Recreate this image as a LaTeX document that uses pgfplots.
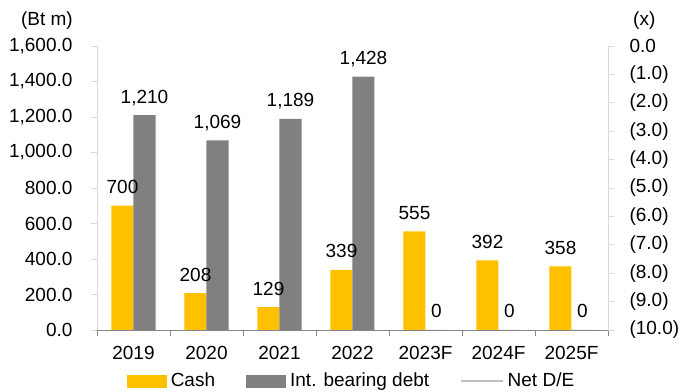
\documentclass[border=0pt]{standalone}
\usepackage{pgfplots}
\pgfplotsset{compat=1.18}
\usepackage{fontspec}
\setmainfont{Liberation Sans}
\definecolor{cashc}{HTML}{FFC000}
\definecolor{debtc}{HTML}{808080}
\definecolor{lightax}{HTML}{D9D9D9}
\definecolor{darkax}{HTML}{868686}
\definecolor{nde}{HTML}{BFBFBF}
\pgfplotsset{
  swatch/.style={legend image code/.code={\fill[##1] (0bp,-6.5bp) rectangle (40bp,6.5bp);}},
  lineleg/.style={legend image code/.code={\draw[##1] (0bp,0bp) -- (42bp,0bp);}},
}
\begin{document}
\fontsize{19bp}{22bp}\selectfont
\begin{tikzpicture}
\useasboundingbox (0,0) rectangle (680bp,392bp);
\begin{axis}[
  at={(97bp,62bp)}, anchor=south west,
  width=511bp, height=284bp, scale only axis,
  xmin=-0.5, xmax=6.5, ymin=0, ymax=1600,
  axis x line*=bottom, axis y line*=left,
  axis line style={-},
  x axis line style={draw=darkax, line width=0.8bp},
  y axis line style={draw=lightax, line width=0.8bp},
  tick align=outside, major tick length=6bp,
  xtick={-0.5,0.5,...,6.5},
  x tick label as interval,
  xticklabels={2019,2020,2021,2022,2023F,2024F,2025F},
  x tick style={draw=darkax, line width=0.8bp},
  ytick={0,200,...,1600},
  yticklabels={0.0,200.0,400.0,600.0,800.0,{1,000.0},{1,200.0},{1,400.0},{1,600.0}},
  y tick style={draw=lightax, line width=0.8bp},
  ticklabel style={font=\fontsize{19bp}{22bp}\selectfont},
  yticklabel style={xshift=-12bp},
  xticklabel style={yshift=-4bp},
  /pgf/number format/1000 sep={,},
  /pgf/number format/assume math mode=true,
  nodes near coords,
  every node near coord/.append style={font=\fontsize{19bp}{22bp}\selectfont, anchor=base, yshift=12bp, inner sep=0pt},
  legend style={at={(0.5,-0.18)}, anchor=center, draw=none, fill=none,
    font=\fontsize{19bp}{22bp}\selectfont, legend columns=3,
    nodes={inner xsep=4bp, inner ysep=0bp},
    /tikz/every even column/.append style={column sep=27bp}},
]
\addplot[ybar, bar width=22bp, bar shift=-11bp, fill=cashc, draw=none, swatch,
  every node near coord/.append style={xshift=-11bp}] coordinates {
  (0,700) (1,208) (2,129) (3,339) (4,555) (5,392) (6,358)};
\addlegendentry{Cash}
\addplot[ybar, bar width=22bp, bar shift=11bp, fill=debtc, draw=none, swatch,
  every node near coord/.append style={xshift=11bp}] coordinates {
  (0,1210) (1,1069) (2,1189) (3,1428) (4,0) (5,0) (6,0)};
\addlegendentry{Int. bearing debt}
\addlegendimage{lineleg, draw=nde, line width=1.5bp}
\addlegendentry{Net D/E}
\end{axis}
\begin{axis}[
  at={(97bp,62bp)}, anchor=south west,
  width=511bp, height=284bp, scale only axis,
  xmin=-0.5, xmax=6.5, ymin=-10, ymax=0,
  axis x line=none, axis y line*=right,
  axis line style={-},
  y axis line style={draw=lightax, line width=0.8bp},
  tick align=outside, major tick length=6bp,
  ytick={-10,-9,...,0},
  yticklabels={(10.0),(9.0),(8.0),(7.0),(6.0),(5.0),(4.0),(3.0),(2.0),(1.0),0.0},
  y tick style={draw=lightax, line width=0.8bp},
  ticklabel style={font=\fontsize{19bp}{22bp}\selectfont},
  yticklabel style={xshift=9bp},
]
\end{axis}
\node[anchor=east, inner sep=0pt] at (73bp,371bp) {(Bt m)};
\node[anchor=west, inner sep=0pt] at (633bp,371bp) {(x)};
\end{tikzpicture}
\end{document}
